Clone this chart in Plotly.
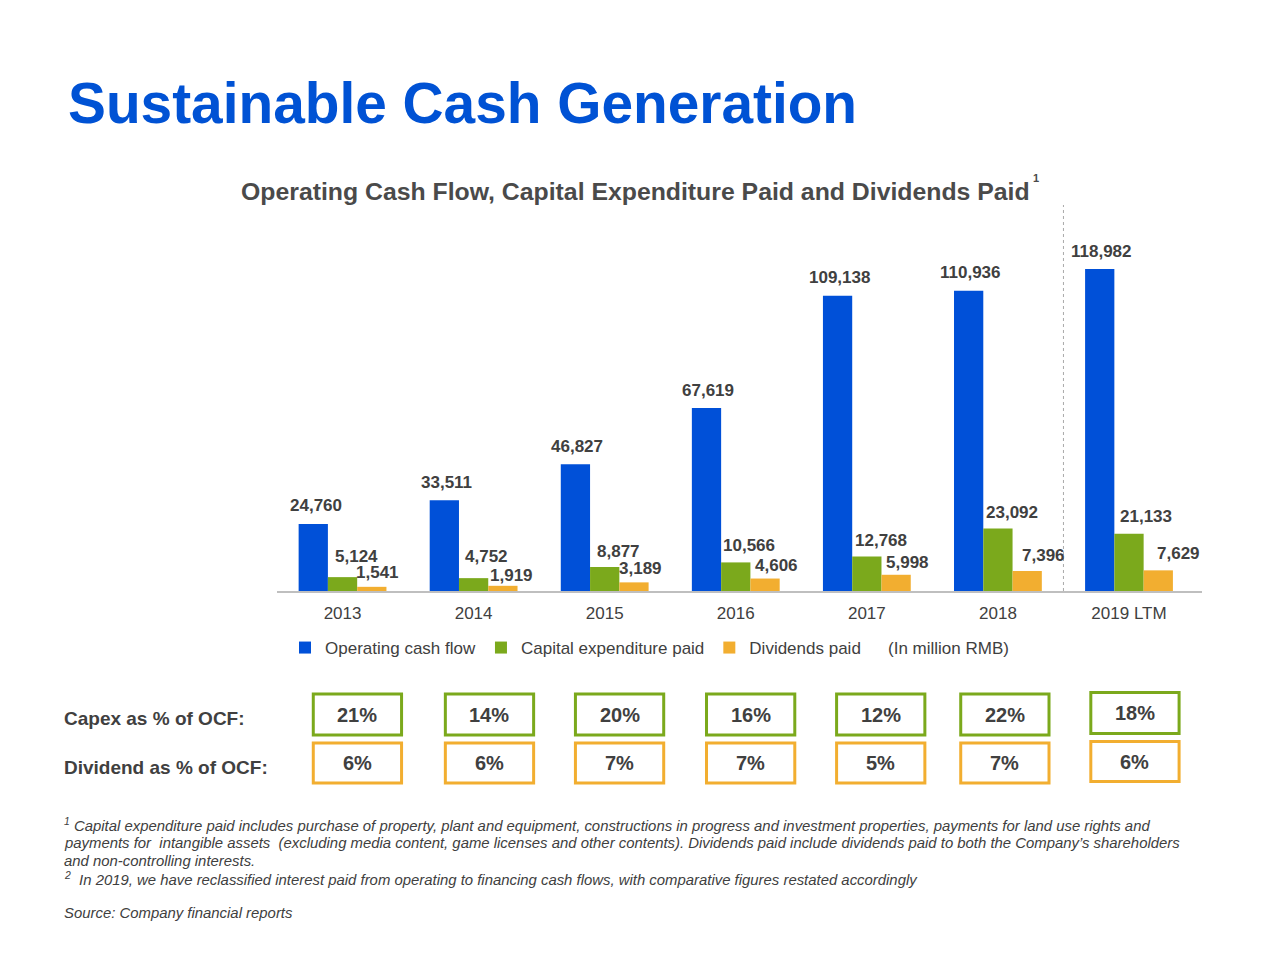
import plotly.graph_objects as go

# ---------------- data ----------------
years = ["2013", "2014", "2015", "2016", "2017", "2018", "2019 LTM"]
operating_cash_flow = [24760, 33511, 46827, 67619, 109138, 110936, 118982]
capex_paid = [5124, 4752, 8877, 10566, 12768, 23092, 21133]
dividends_paid = [1541, 1919, 3189, 4606, 5998, 7396, 7629]
capex_pct_ocf = ["21%", "14%", "20%", "16%", "12%", "22%", "18%"]
dividend_pct_ocf = ["6%", "6%", "7%", "7%", "5%", "7%", "6%"]

# ---------------- style ----------------
BLUE = "#0050D8"
GREEN = "#7BA91C"
ORANGE = "#F2AE30"
TEXT = "#404040"
FONT = "Liberation Sans, Arial, sans-serif"

W, H = 1280, 960
PL, PR, PT, PB = 277, 1202, 205, 591  # plot area in pixels
px_per_unit = 322 / 118982
YMAX = (PB - PT) / px_per_unit


def px2x(px):
    return (px - PL) / (PR - PL)


def px2y(py):
    return (PB - py) / (PB - PT)


fig = go.Figure()
for name, vals, col in [("Operating cash flow", operating_cash_flow, BLUE),
                        ("Capital expenditure paid", capex_paid, GREEN),
                        ("Dividends paid", dividends_paid, ORANGE)]:
    fig.add_trace(go.Bar(name=name, x=years, y=vals, marker=dict(color=col, line=dict(width=0)),
                         hoverinfo="x+y+name"))

annotations = []
shapes = []

# data labels
bar_off = 29.5
dx_blue = [3, 2, 2, 2, 2, 2, 2]
dx_green = [14, 13, 14, 13, 14, 14, 17]
dx_orange = [5, 8, 6, 11, 11, 16, 20]
dy_green = [21, 22, 15, 17, 16, 16, 17]
dy_orange = [14, 10, 14, 13, 12, 15, 17]
for i, yr in enumerate(years):
    annotations.append(dict(x=i, y=operating_cash_flow[i], xref="x", yref="y",
                            text=f"<b>{operating_cash_flow[i]:,}</b>", showarrow=False,
                            xshift=-bar_off + dx_blue[i], yshift=18, yanchor="middle",
                            font=dict(size=17, color=TEXT, family=FONT)))
    annotations.append(dict(x=i, y=capex_paid[i], xref="x", yref="y",
                            text=f"<b>{capex_paid[i]:,}</b>", showarrow=False,
                            xshift=dx_green[i], yshift=dy_green[i], yanchor="middle",
                            font=dict(size=17, color=TEXT, family=FONT)))
    annotations.append(dict(x=i, y=dividends_paid[i], xref="x", yref="y",
                            text=f"<b>{dividends_paid[i]:,}</b>", showarrow=False,
                            xshift=bar_off + dx_orange[i], yshift=dy_orange[i], yanchor="middle",
                            font=dict(size=17, color=TEXT, family=FONT)))

# title and subtitle
annotations.append(dict(x=px2x(66), y=px2y(104), xref="paper", yref="paper", xanchor="left",
                        yanchor="middle", showarrow=False, text="<b>Sustainable Cash Generation</b>",
                        font=dict(size=56.8, color="#0052D4", family=FONT)))
annotations.append(dict(x=px2x(239), y=px2y(191), xref="paper", yref="paper", xanchor="left",
                        yanchor="middle", showarrow=False,
                        text="<b>Operating Cash Flow, Capital Expenditure Paid and Dividends Paid</b>",
                        font=dict(size=24.8, color="#4A4A4A", family=FONT)))
annotations.append(dict(x=px2x(1031), y=px2y(178), xref="paper", yref="paper", xanchor="left",
                        yanchor="middle", showarrow=False, text="<b>1</b>",
                        font=dict(size=11, color="#4A4A4A", family=FONT)))
annotations.append(dict(x=px2x(886), y=px2y(648), xref="paper", yref="paper", xanchor="left",
                        yanchor="middle", showarrow=False, text="(In million RMB)",
                        font=dict(size=17, color=TEXT, family=FONT)))

# row labels
annotations.append(dict(x=px2x(62), y=px2y(718), xref="paper", yref="paper", xanchor="left",
                        yanchor="middle", showarrow=False, text="<b>Capex as % of OCF:</b>",
                        font=dict(size=19, color=TEXT, family=FONT)))
annotations.append(dict(x=px2x(62), y=px2y(767), xref="paper", yref="paper", xanchor="left",
                        yanchor="middle", showarrow=False, text="<b>Dividend as % of OCF:</b>",
                        font=dict(size=19, color=TEXT, family=FONT)))

# percentage boxes
cat_px = (PR - PL) / len(years)
box_dx = [15, 16, 15, 15, 14, 7, 6]
box_dy = [0, 0, 0, 0, 0, 0, -1.5]
half_w = 44.5 / cat_px
for i in range(len(years)):
    cx = i + box_dx[i] / cat_px
    for (top, bot, col, txt) in [(694, 735, GREEN, capex_pct_ocf[i]),
                                 (743, 783, ORANGE, dividend_pct_ocf[i])]:
        t, b = top + box_dy[i], bot + box_dy[i]
        shapes.append(dict(type="rect", xref="x", yref="paper", x0=cx - half_w, x1=cx + half_w,
                           y0=px2y(b), y1=px2y(t), line=dict(color=col, width=3),
                           fillcolor="rgba(0,0,0,0)"))
        annotations.append(dict(x=cx, y=px2y((t + b) / 2), xref="x", yref="paper",
                                xanchor="center", yanchor="middle", showarrow=False,
                                text=f"<b>{txt}</b>", font=dict(size=20, color=TEXT, family=FONT)))

# dotted separator
shapes.append(dict(type="line", xref="x", yref="paper", x0=5.5, x1=5.5, y0=0, y1=1,
                   line=dict(color="#AAAAAA", width=1, dash="dot")))

# footnotes (one annotation per line)
foot_lines = [
    ("<sup>1</sup> Capital expenditure paid includes purchase of property, plant and equipment, "
     "constructions in progress and investment properties, payments for land use rights and", 825),
    ("payments for  intangible assets  (excluding media content, game licenses and other contents). "
     "Dividends paid include dividends paid to both the Company\u2019s shareholders", 843),
    ("and non-controlling interests.", 861),
    ("<sup>2</sup>  In 2019, we have reclassified interest paid from operating to financing cash flows, "
     "with comparative figures restated accordingly", 879),
    ("Source: Company financial reports", 913),
]
for txt, py in foot_lines:
    annotations.append(dict(x=px2x(62), y=px2y(py), xref="paper", yref="paper", xanchor="left",
                            yanchor="middle", align="left", showarrow=False, text=f"<i>{txt}</i>",
                            font=dict(size=14.9, color=TEXT, family=FONT)))

fig.update_layout(
    width=W, height=H,
    margin=dict(l=PL, r=W - PR, t=PT, b=H - PB, pad=0),
    paper_bgcolor="white", plot_bgcolor="white",
    barmode="group", bargap=0.33, bargroupgap=0,
    font=dict(family=FONT, color=TEXT),
    xaxis=dict(type="category", showline=True, linecolor="#BFBFBF", linewidth=1.5, showgrid=False,
               ticks="", tickfont=dict(size=17, color=TEXT), ticklabelstandoff=6,
               fixedrange=True),
    yaxis=dict(range=[0, YMAX], visible=False, showgrid=False, zeroline=False, fixedrange=True),
    legend=dict(orientation="h", x=px2x(285), y=px2y(648), xanchor="left", yanchor="middle",
                font=dict(size=17, color=TEXT), itemwidth=30, bgcolor="rgba(0,0,0,0)",
                traceorder="normal"),
    annotations=annotations,
    shapes=shapes,
)

fig.write_html("out.html")
